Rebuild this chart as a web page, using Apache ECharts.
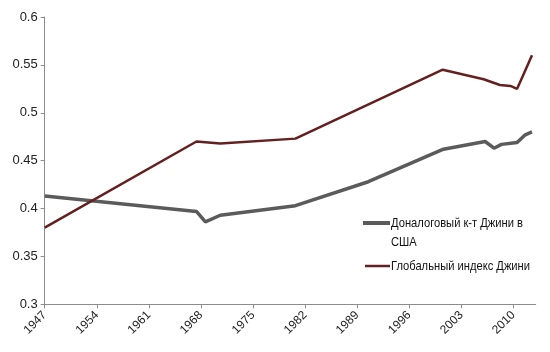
<!DOCTYPE html>
<html><head><meta charset="utf-8">
<script src="https://cdn.jsdelivr.net/npm/echarts@6/dist/echarts.min.js"></script>
<style>html,body{margin:0;padding:0;background:#fff}#c{width:550px;height:352px}</style>
</head><body><div id="c"></div>
<script>
var usYears = [1947, 1967.4, 1968.6, 1970.6, 1980.7, 1990.5, 2000.6, 2006.2, 2007.4, 2008.4, 2010.5, 2011.6, 2012.5];
var usGini  = [0.413, 0.397, 0.386, 0.393, 0.403, 0.428, 0.462, 0.470, 0.463, 0.467, 0.469, 0.477, 0.480];
var glYears = [1947, 1967.4, 1970.6, 1980.7, 2000.5, 2006.0, 2008.2, 2009.6, 2010.5, 2011.3, 2012.5];
var glGini  = [0.380, 0.470, 0.468, 0.473, 0.545, 0.535, 0.529, 0.528, 0.525, 0.539, 0.560];
var xTicks = [1947, 1954, 1961, 1968, 1975, 1982, 1989, 1996, 2003, 2010];
var seriesNames = ['Доналоговый к-т Джини в США', 'Глобальный индекс Джини'];
var legendLines = ['Доналоговый к-т Джини в', 'США', 'Глобальный индекс Джини'];

function pairs(xs, ys) { return xs.map(function (x, i) { return [x, ys[i]]; }); }

var font = "'Liberation Sans', Arial, sans-serif";
var colors = ['#5b5b5b', '#64201f'];

// horizontal squeeze for the condensed look of the legend text
var ctx = document.createElement('canvas').getContext('2d');
ctx.font = "13px 'Liberation Sans'";
var sq = 139 / ctx.measureText(legendLines[2]).width;

function legendText(str, x, y) {
  return {type: 'text', x: x, y: y, scaleX: sq, scaleY: 1, silent: true,
    style: {text: str, x: 0, y: 0, fill: '#111', fontFamily: font, fontSize: 13, align: 'left', verticalAlign: 'middle'}};
}

var chart = echarts.init(document.getElementById('c'), null, {renderer: 'canvas'});
chart.setOption({
  animation: false,
  grid: {left: 44.7, right: 14.3, top: 17, bottom: 47.7, containLabel: false},
  xAxis: {
    type: 'value', min: 1947, max: 2013, interval: 7,
    splitLine: {show: false},
    axisLine: {lineStyle: {color: '#8c8c8c', width: 1}},
    axisTick: {show: true, length: 4, inside: false, customValues: xTicks, lineStyle: {color: '#8c8c8c'}},
    axisLabel: {customValues: xTicks, rotate: 45, color: '#222', fontFamily: font, fontSize: 12, margin: 9,
      formatter: function (v) { return String(v); }}
  },
  yAxis: {
    type: 'value', min: 0.3, max: 0.6, interval: 0.05,
    splitLine: {show: false},
    axisLine: {show: true, lineStyle: {color: '#8c8c8c', width: 1}},
    axisTick: {show: true, length: 4, lineStyle: {color: '#8c8c8c'}},
    axisLabel: {color: '#222', fontFamily: font, fontSize: 13, margin: 7,
      formatter: function (v) { return String(parseFloat(v.toFixed(2))); }}
  },
  graphic: [
    {type: 'line', silent: true, shape: {x1: 363, y1: 223, x2: 390, y2: 223}, style: {stroke: colors[0], lineWidth: 4}},
    legendText(legendLines[0], 391, 223),
    legendText(legendLines[1], 391, 242),
    {type: 'line', silent: true, shape: {x1: 365, y1: 266, x2: 390, y2: 266}, style: {stroke: colors[1], lineWidth: 2.5}},
    legendText(legendLines[2], 391, 266)
  ],
  series: [
    {name: seriesNames[0], type: 'line', data: pairs(usYears, usGini), showSymbol: false, symbol: 'none',
      lineStyle: {color: colors[0], width: 3.5}, itemStyle: {color: colors[0]}},
    {name: seriesNames[1], type: 'line', data: pairs(glYears, glGini), showSymbol: false, symbol: 'none',
      lineStyle: {color: colors[1], width: 2.5}, itemStyle: {color: colors[1]}}
  ]
});
</script></body></html>
